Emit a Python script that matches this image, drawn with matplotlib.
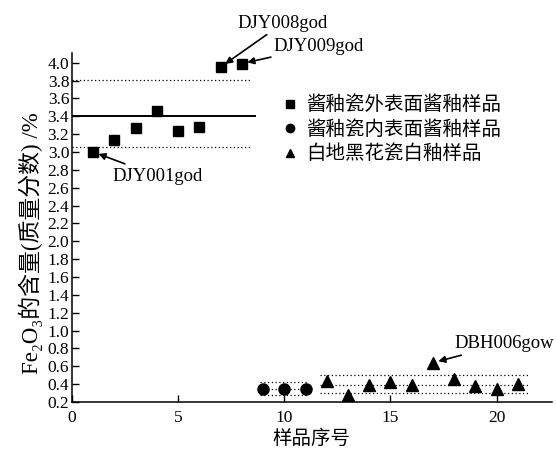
import numpy as np
import matplotlib
matplotlib.use('Agg')
import matplotlib.pyplot as plt

plt.rcParams['font.family'] = ['Liberation Serif', 'Noto Sans CJK SC', 'DejaVu Sans']

# ---- data ----
outer_x = [1, 2, 3, 4, 5, 6, 7, 8]
outer_y = [3.00, 3.13, 3.27, 3.46, 3.23, 3.28, 3.95, 3.99]
inner_x = [9, 10, 11]
inner_y = [0.35, 0.35, 0.35]
white_x = [12, 13, 14, 15, 16, 17, 18, 19, 20, 21]
white_y = [0.44, 0.28, 0.39, 0.42, 0.39, 0.64, 0.46, 0.38, 0.34, 0.40]

# mean (solid) and band (dotted) lines per group
outer_mean, outer_band = 3.40, (3.06, 3.81)
inner_mean, inner_band = 0.35, (0.28, 0.42)
white_mean, white_band = 0.39, (0.30, 0.50)

labels = ['酱釉瓷外表面酱釉样品', '酱釉瓷内表面酱釉样品', '白地黑花瓷白釉样品']

fig = plt.figure(figsize=(5.56, 4.57), dpi=100)
ax = fig.add_axes([0.1295, 0.1204, 0.863, 0.764])

# reference lines
ax.plot([0, 8.6], [outer_mean] * 2, color='black', lw=1.4)
for v in outer_band:
    ax.plot([0, 8.5], [v, v], color='black', lw=0.9, ls=(0, (1, 2)))
for v in (inner_band[0], inner_mean, inner_band[1]):
    ax.plot([8.85, 11.05], [v, v], color='black', lw=0.9, ls=(0, (1, 2)))
for v in (white_band[0], white_mean, white_band[1]):
    ax.plot([11.7, 21.5], [v, v], color='black', lw=0.9, ls=(0, (1, 2)))

ax.plot(outer_x, outer_y, 's', color='black', ms=7, label=labels[0])
ax.plot(inner_x, inner_y, 'o', color='black', ms=8, label=labels[1])
ax.plot(white_x, white_y, '^', color='black', ms=8, label=labels[2])

arrow = dict(arrowstyle='-|>', color='black', lw=1.2, mutation_scale=10, shrinkA=0, shrinkB=4)
ax.annotate('DJY008god', xy=(outer_x[6], outer_y[6]), xytext=(7.8, 4.44),
            fontsize=13.5, ha='left', va='center', arrowprops=arrow)
ax.annotate('DJY009god', xy=(outer_x[7], outer_y[7]), xytext=(9.5, 4.18),
            fontsize=13.5, ha='left', va='center', arrowprops=arrow)
ax.annotate('DJY001god', xy=(outer_x[0], outer_y[0]), xytext=(1.9, 2.73),
            fontsize=13.5, ha='left', va='center',
            arrowprops=dict(arrow, shrinkA=2))
ax.annotate('DBH006gow', xy=(white_x[5], white_y[5]), xytext=(18.0, 0.85),
            fontsize=13.5, ha='left', va='center', arrowprops=arrow)

leg = ax.legend(loc='upper left', bbox_to_anchor=(0.42, 0.905), frameon=False,
                fontsize=14, handlelength=0.7, handletextpad=0.5,
                labelspacing=0.3, borderpad=0)
for h in leg.legend_handles:
    h.set_markersize(6)

ax.set_xlim(0, 22.6)
ax.set_ylim(0.2, 4.11)
ax.set_xticks([0, 5, 10, 15, 20])
ax.set_yticks(np.round(np.arange(0.2, 4.01, 0.2), 1))
ax.yaxis.set_major_formatter(matplotlib.ticker.FormatStrFormatter('%.1f'))
ax.tick_params(direction='in', labelsize=12.5, length=5, width=1)
ax.tick_params(axis='x', pad=6)
ax.tick_params(axis='y', pad=2)
for s in ('top', 'right'):
    ax.spines[s].set_visible(False)
ax.spines['left'].set_linewidth(1.1)
ax.spines['bottom'].set_linewidth(1.1)

ax.set_xlabel('样品序号', fontsize=14, labelpad=2)
ax.set_ylabel('Fe₂O₃的含量(质量分数) /%', fontsize=16.5)
ax.yaxis.set_label_coords(-0.06, 0.455)

fig.savefig('out.png', dpi=100)
